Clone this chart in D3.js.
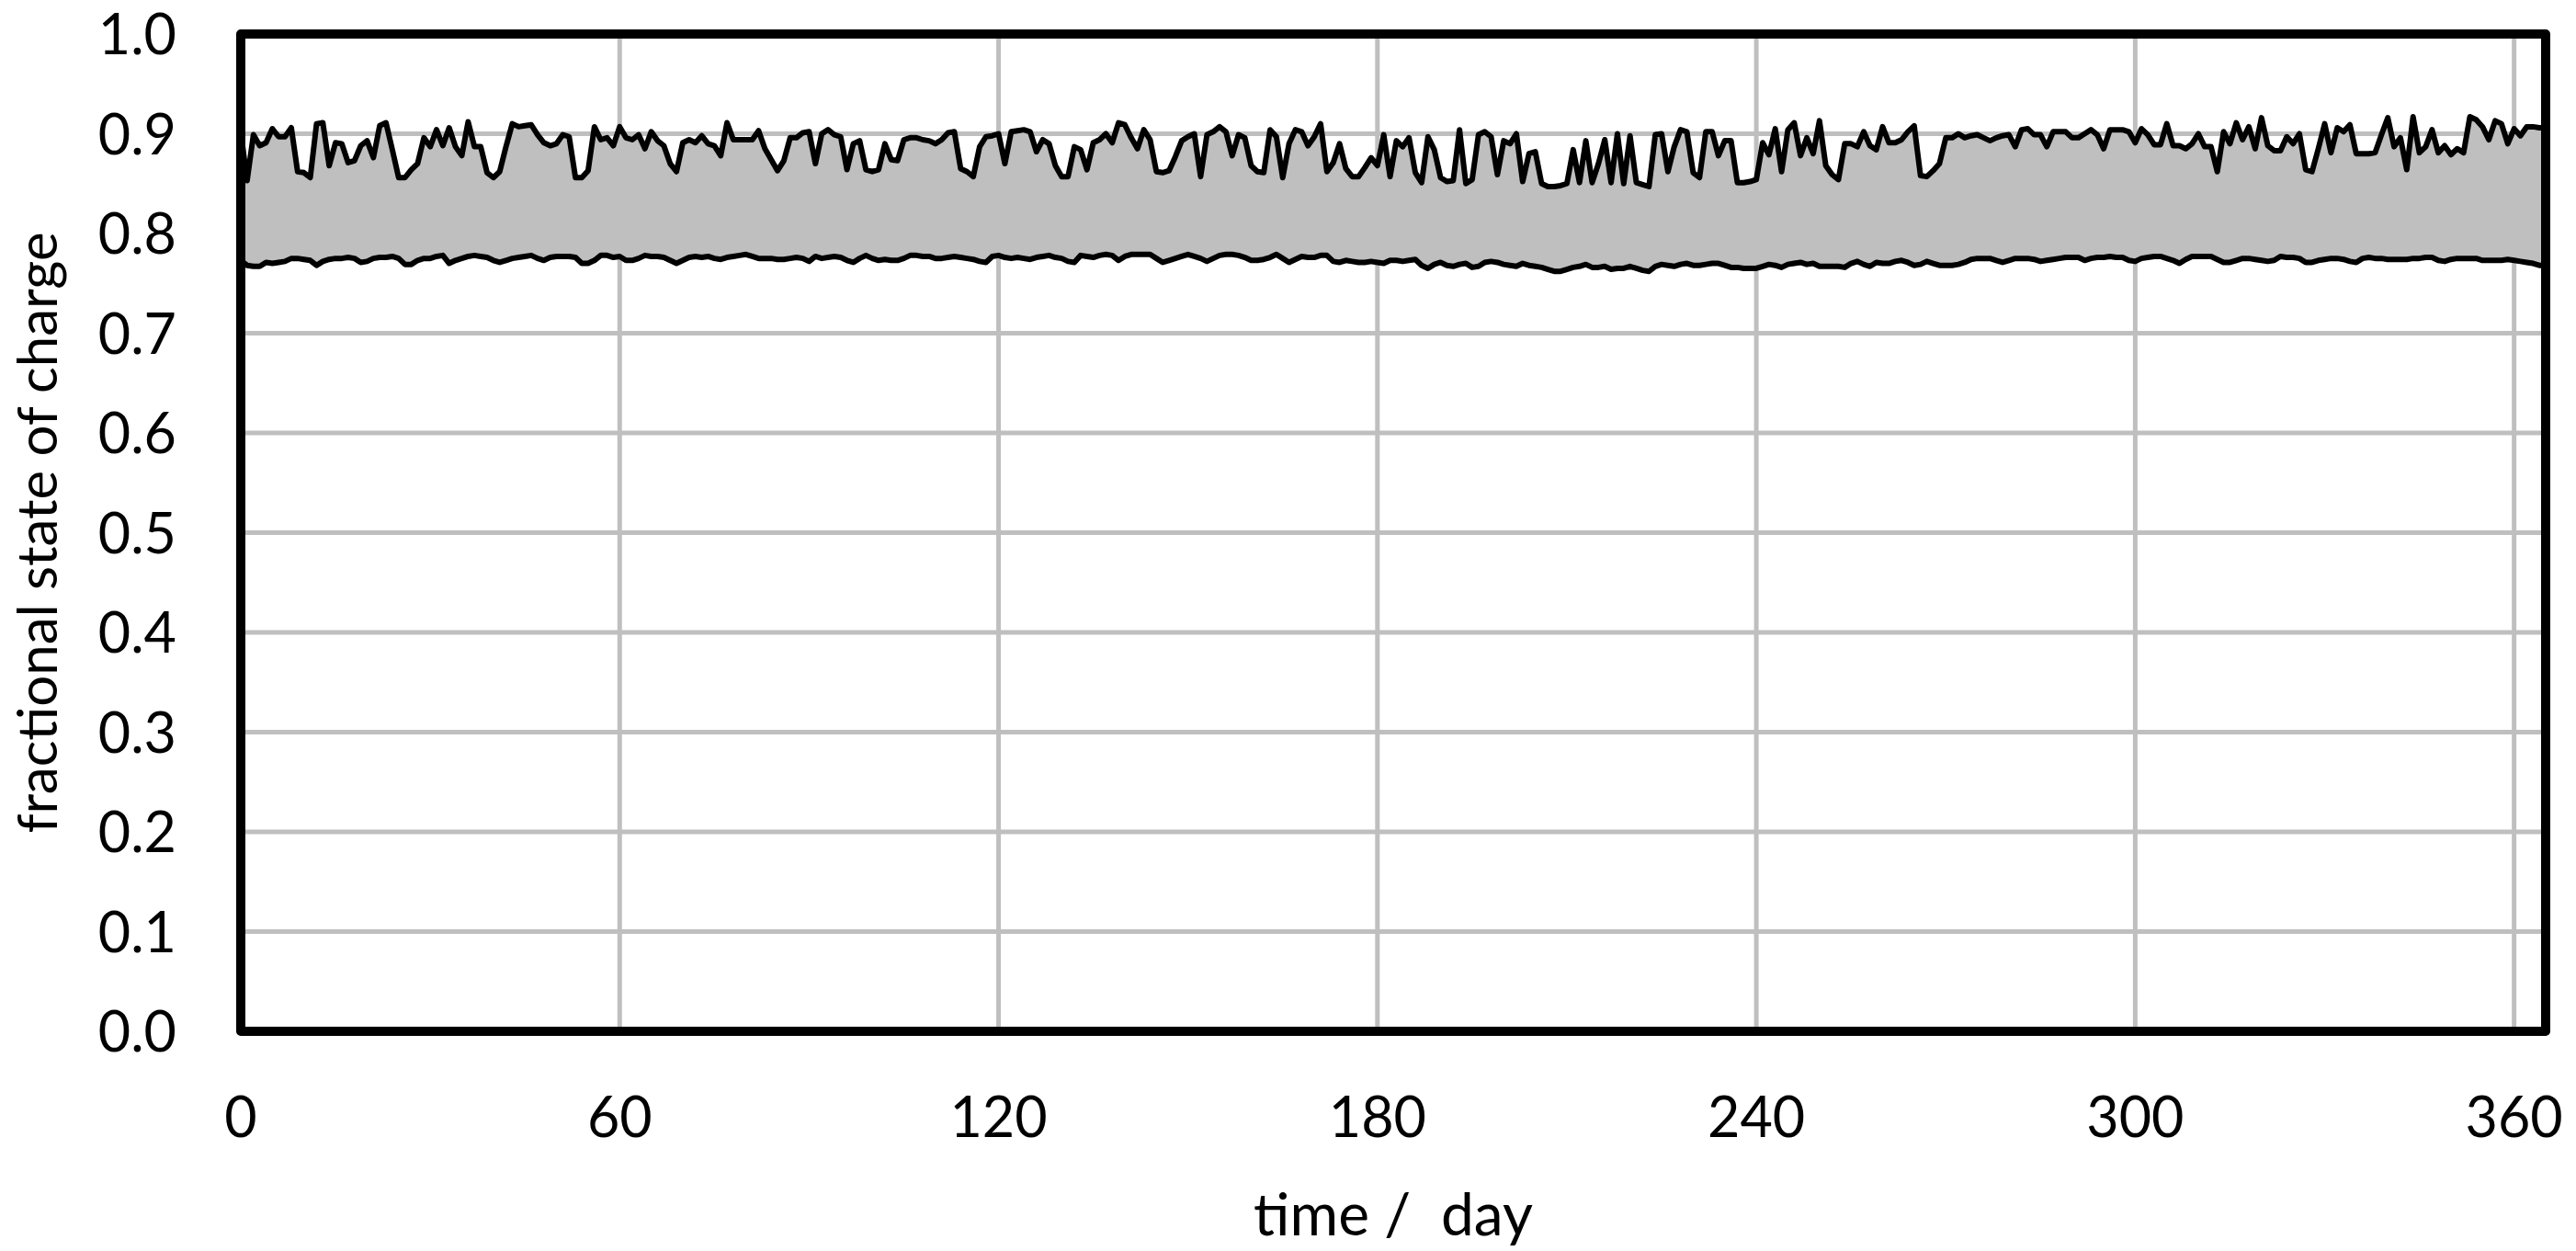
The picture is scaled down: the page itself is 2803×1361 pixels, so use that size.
<!DOCTYPE html>
<html>
<head>
<meta charset="utf-8">
<script src="https://cdn.jsdelivr.net/npm/d3@7"></script>
<style>
  html, body { margin: 0; padding: 0; background: #fff; }
  text { font-family: Lato, "Open Sans", sans-serif; fill: #000; }
</style>
</head>
<body>
<div id="chart"></div>
<script>
// daily maximum state of charge, day 0 .. 365
var socMax = [
  .902,.853,.899,.888,.891,.905,.897,.897,.906,.862,
  .861,.856,.910,.911,.868,.891,.890,.871,.873,.888,
  .893,.876,.908,.911,.884,.856,.856,.864,.870,.896,
  .887,.904,.888,.906,.887,.878,.912,.887,.887,.861,
  .856,.862,.887,.910,.907,.908,.909,.899,.891,.888,
  .890,.899,.897,.856,.856,.863,.907,.894,.896,.888,
  .907,.896,.894,.899,.885,.902,.893,.888,.870,.862,
  .891,.894,.891,.898,.890,.888,.878,.911,.894,.894,
  .894,.894,.903,.885,.874,.863,.873,.896,.896,.901,
  .902,.870,.900,.904,.899,.897,.864,.890,.893,.864,
  .862,.864,.890,.874,.873,.894,.896,.896,.894,.893,
  .890,.894,.901,.902,.865,.862,.857,.887,.897,.898,
  .900,.870,.902,.903,.904,.902,.882,.894,.890,.868,
  .857,.857,.887,.884,.864,.891,.894,.900,.891,.911,
  .909,.896,.885,.904,.894,.862,.861,.863,.877,.893,
  .897,.900,.857,.899,.902,.907,.902,.878,.899,.896,
  .868,.862,.861,.904,.897,.856,.890,.904,.902,.888,
  .897,.910,.862,.871,.890,.865,.857,.857,.866,.876,
  .868,.899,.857,.893,.887,.896,.861,.851,.897,.884,
  .856,.852,.853,.904,.850,.854,.899,.902,.897,.859,
  .893,.890,.900,.852,.880,.882,.850,.847,.847,.848,
  .850,.884,.851,.893,.851,.870,.894,.851,.900,.850,
  .898,.851,.849,.847,.899,.900,.862,.887,.904,.902,
  .861,.856,.902,.902,.878,.893,.893,.851,.851,.852,
  .854,.891,.879,.905,.862,.904,.911,.878,.896,.880,
  .913,.868,.859,.854,.890,.890,.887,.902,.888,.884,
  .907,.891,.891,.894,.902,.908,.858,.857,.863,.870,
  .896,.896,.900,.896,.898,.899,.896,.893,.896,.898,
  .899,.887,.904,.905,.899,.899,.887,.902,.902,.902,
  .896,.896,.900,.904,.899,.885,.904,.904,.904,.902,
  .891,.905,.899,.889,.889,.910,.888,.888,.885,.890,
  .900,.887,.887,.862,.902,.890,.911,.894,.907,.885,
  .916,.888,.883,.883,.897,.890,.900,.864,.862,.885,
  .910,.881,.906,.902,.909,.880,.880,.880,.881,.899,
  .916,.887,.896,.864,.917,.881,.887,.904,.881,.888,
  .879,.885,.881,.917,.914,.907,.894,.913,.910,.890,
  .905,.898,.907,.907,.906,.906
];

// daily minimum state of charge, day 0 .. 365
var socMin = [
  .773,.768,.767,.767,.771,.770,.771,.772,.775,.775,
  .774,.773,.768,.772,.774,.775,.775,.776,.775,.771,
  .772,.775,.776,.776,.777,.775,.769,.769,.773,.775,
  .775,.777,.778,.770,.773,.775,.777,.778,.777,.776,
  .773,.771,.773,.775,.776,.777,.778,.775,.773,.776,
  .777,.777,.777,.776,.770,.770,.773,.778,.778,.776,
  .777,.773,.773,.775,.778,.777,.777,.776,.773,.770,
  .773,.776,.777,.776,.777,.775,.774,.776,.777,.778,
  .779,.777,.775,.775,.775,.774,.774,.775,.776,.775,
  .772,.777,.775,.776,.777,.776,.773,.771,.775,.778,
  .775,.773,.774,.773,.773,.775,.778,.778,.777,.777,
  .775,.775,.776,.777,.776,.775,.774,.772,.771,.777,
  .778,.776,.775,.776,.775,.774,.776,.777,.778,.776,
  .775,.772,.771,.778,.777,.776,.778,.779,.778,.773,
  .777,.779,.779,.779,.779,.775,.771,.773,.775,.777,
  .779,.777,.775,.772,.775,.778,.779,.779,.778,.776,
  .773,.773,.774,.776,.779,.775,.771,.774,.777,.776,
  .776,.778,.778,.772,.771,.773,.772,.771,.771,.772,
  .771,.770,.773,.773,.772,.773,.774,.768,.765,.769,
  .771,.768,.767,.769,.770,.766,.767,.771,.772,.771,
  .769,.768,.767,.770,.768,.767,.766,.764,.762,.762,
  .764,.766,.767,.769,.766,.766,.767,.764,.765,.765,
  .767,.765,.763,.762,.767,.769,.768,.767,.769,.770,
  .768,.768,.769,.770,.770,.768,.766,.766,.765,.765,
  .765,.767,.769,.768,.766,.769,.770,.771,.769,.770,
  .767,.767,.767,.767,.766,.770,.772,.769,.767,.771,
  .770,.770,.772,.773,.771,.768,.769,.772,.770,.768,
  .768,.768,.769,.771,.774,.775,.775,.775,.773,.771,
  .773,.775,.775,.775,.774,.772,.773,.774,.775,.776,
  .776,.776,.773,.775,.776,.776,.777,.776,.776,.773,
  .772,.775,.776,.777,.777,.775,.773,.770,.774,.777,
  .777,.777,.777,.774,.771,.771,.773,.775,.775,.774,
  .773,.772,.773,.777,.776,.776,.775,.771,.771,.773,
  .774,.775,.775,.774,.772,.771,.775,.776,.775,.775,
  .774,.774,.774,.774,.775,.775,.776,.776,.773,.772,
  .774,.775,.775,.775,.775,.773,.773,.773,.773,.774,
  .773,.772,.771,.770,.768,.768
];

var xTicks = [0, 60, 120, 180, 240, 300, 360];
var yTicks = [0, 0.1, 0.2, 0.3, 0.4, 0.5, 0.6, 0.7, 0.8, 0.9, 1.0];
var xTitle = "time /  day";
var yTitle = "fractional state of charge";

var width = 2803, height = 1361;
var margin = {top: 37, right: 33, bottom: 239, left: 262};
var plotW = width - margin.left - margin.right,
    plotH = height - margin.top - margin.bottom;

var svg = d3.select("#chart").append("svg")
    .attr("width", width)
    .attr("height", height);

var g = svg.append("g")
    .attr("transform", "translate(" + margin.left + "," + margin.top + ")");

var x = d3.scaleLinear().domain([0, 365]).range([0, plotW]);
var y = d3.scaleLinear().domain([0, 1]).range([plotH, 0]);

var days = d3.range(socMax.length).map(function(i) {
  return {day: i, hi: socMax[i], lo: socMin[i]};
});

// grid lines
g.append("g").attr("class", "grid-y")
  .selectAll("line").data(yTicks).enter().append("line")
    .attr("x1", 0).attr("x2", plotW)
    .attr("y1", function(d) { return y(d); })
    .attr("y2", function(d) { return y(d); })
    .attr("stroke", "#bfbfbf").attr("stroke-width", 5);

g.append("g").attr("class", "grid-x")
  .selectAll("line").data(xTicks).enter().append("line")
    .attr("x1", function(d) { return x(d); })
    .attr("x2", function(d) { return x(d); })
    .attr("y1", 0).attr("y2", plotH)
    .attr("stroke", "#bfbfbf").attr("stroke-width", 5);

// band between min and max
var area = d3.area()
    .x(function(d) { return x(d.day); })
    .y0(function(d) { return y(d.lo); })
    .y1(function(d) { return y(d.hi); });

g.append("path").datum(days)
    .attr("d", area)
    .attr("fill", "#bfbfbf");

var lineHi = d3.line()
    .x(function(d) { return x(d.day); })
    .y(function(d) { return y(d.hi); });
var lineLo = d3.line()
    .x(function(d) { return x(d.day); })
    .y(function(d) { return y(d.lo); });

[lineHi, lineLo].forEach(function(fn) {
  g.append("path").datum(days)
      .attr("d", fn)
      .attr("fill", "none")
      .attr("stroke", "#000")
      .attr("stroke-width", 6)
      .attr("stroke-linejoin", "round");
});

// frame
g.append("rect")
    .attr("x", 0).attr("y", 0)
    .attr("width", plotW).attr("height", plotH)
    .attr("fill", "none")
    .attr("stroke", "#000")
    .attr("stroke-width", 10)
    .attr("stroke-linejoin", "round");

// tick labels
g.append("g").selectAll("text").data(yTicks).enter().append("text")
    .attr("x", -70)
    .attr("y", function(d) { return y(d) + 22; })
    .attr("text-anchor", "end")
    .style("font-size", "61px")
    .text(function(d) { return d3.format(".1f")(d); });

g.append("g").selectAll("text").data(xTicks).enter().append("text")
    .attr("x", function(d) { return x(d); })
    .attr("y", plotH + 115)
    .attr("text-anchor", "middle")
    .style("font-size", "61px")
    .text(function(d) { return d; });

// axis titles
svg.append("text")
    .attr("x", margin.left + plotW / 2)
    .attr("y", 1344)
    .attr("text-anchor", "middle")
    .style("font-size", "64px")
    .style("white-space", "pre")
    .attr("xml:space", "preserve")
    .text(xTitle);

svg.append("text")
    .attr("transform", "translate(62," + (margin.top + plotH / 2) + ") rotate(-90)")
    .attr("text-anchor", "middle")
    .style("font-size", "60px")
    .text(yTitle);
</script>
</body>
</html>
